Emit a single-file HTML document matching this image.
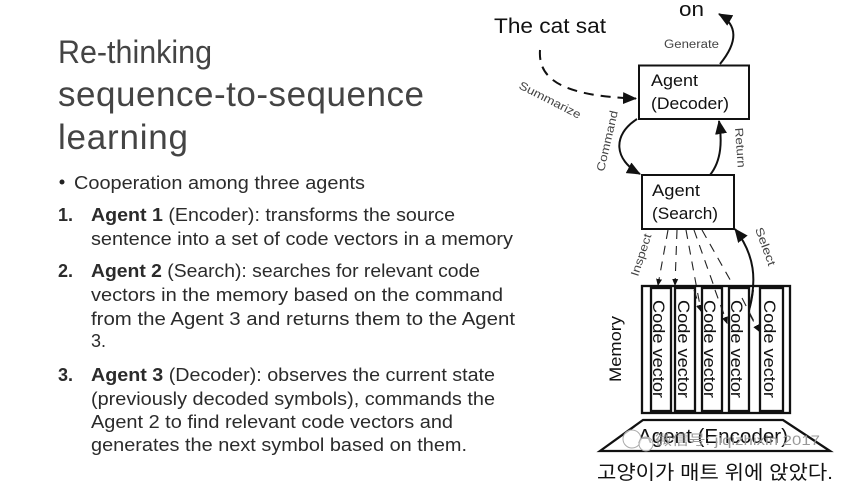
<!DOCTYPE html>
<html><head><meta charset="utf-8"><style>
html,body{margin:0;padding:0;background:#fff}
svg{display:block}
.t{font-family:"Liberation Sans",sans-serif;fill:#2b2b2b}
.b{font-size:18px}
.d{font-family:"Liberation Sans","Noto Sans CJK KR",sans-serif;fill:#111}
.s{font-size:11.5px;fill:#444}
.v{font-size:17px}
</style></head><body>
<svg width="855" height="482" viewBox="0 0 855 482" xmlns="http://www.w3.org/2000/svg">
<defs>
<marker id="a" markerWidth="7" markerHeight="7" refX="6" refY="3" orient="auto" markerUnits="userSpaceOnUse" viewBox="0 0 7 6"><path d="M0 0L7 3L0 6z" fill="#111"/></marker>
<marker id="A" markerWidth="14" markerHeight="12" refX="13" refY="6" orient="auto" markerUnits="userSpaceOnUse"><path d="M0 0L14 6L0 12z" fill="#111"/></marker>
</defs>
<rect width="855" height="482" fill="#fff"/>

<g class="t" style="font-weight:400;fill:#444">
<text x="58" y="63" font-size="32" textLength="154" lengthAdjust="spacingAndGlyphs">Re-thinking</text>
<text x="58" y="106" font-size="35" textLength="366" lengthAdjust="spacing">sequence-to-sequence</text>
<text x="58" y="149" font-size="35" textLength="130" lengthAdjust="spacing">learning</text>
</g>

<g class="t b">
<circle cx="62" cy="182" r="2.500" fill="#222"/>
<text x="74" y="189" textLength="291" lengthAdjust="spacingAndGlyphs">Cooperation among three agents</text>

<text x="58" y="221" font-weight="700">1.</text>
<text x="91" y="221" textLength="364" lengthAdjust="spacingAndGlyphs"><tspan font-weight="700">Agent 1</tspan> (Encoder): transforms the source</text>
<text x="91" y="245" textLength="422" lengthAdjust="spacingAndGlyphs">sentence into a set of code vectors in a memory</text>

<text x="58" y="277" font-weight="700">2.</text>
<text x="91" y="277" textLength="389" lengthAdjust="spacingAndGlyphs"><tspan font-weight="700">Agent 2</tspan> (Search): searches for relevant code</text>
<text x="91" y="301" textLength="412" lengthAdjust="spacingAndGlyphs">vectors in the memory based on the command</text>
<text x="91" y="325" textLength="424" lengthAdjust="spacingAndGlyphs">from the Agent 3 and returns them to the Agent</text>
<text x="91" y="347">3.</text>

<text x="58" y="381" font-weight="700">3.</text>
<text x="91" y="381" textLength="404" lengthAdjust="spacingAndGlyphs"><tspan font-weight="700">Agent 3</tspan> (Decoder): observes the current state</text>
<text x="91" y="405" textLength="404" lengthAdjust="spacingAndGlyphs">(previously decoded symbols), commands the</text>
<text x="91" y="428" textLength="362" lengthAdjust="spacingAndGlyphs">Agent 2 to find relevant code vectors and</text>
<text x="91" y="451" textLength="376" lengthAdjust="spacingAndGlyphs">generates the next symbol based on them.</text>
</g>

<g class="d">
<text x="494" y="33" font-size="21" textLength="112" lengthAdjust="spacingAndGlyphs">The cat sat</text>
<text x="679" y="16" font-size="20" textLength="25" lengthAdjust="spacingAndGlyphs">on</text>
<text class="s" x="664" y="48" textLength="55" lengthAdjust="spacingAndGlyphs" style="fill:#444">Generate</text>
<text x="651" y="86" font-size="17" textLength="47" lengthAdjust="spacingAndGlyphs">Agent</text>
<text x="651" y="109" font-size="17" textLength="78" lengthAdjust="spacingAndGlyphs">(Decoder)</text>
<text x="652" y="196" font-size="17" textLength="48" lengthAdjust="spacingAndGlyphs">Agent</text>
<text x="652" y="219" font-size="17" textLength="66" lengthAdjust="spacingAndGlyphs">(Search)</text>
<text class="s" transform="translate(518 88) rotate(27)" textLength="68" lengthAdjust="spacingAndGlyphs" style="fill:#444">Summarize</text>
<text class="s" transform="translate(604 172) rotate(-77)" textLength="62" lengthAdjust="spacingAndGlyphs" style="fill:#444">Command</text>
<text class="s" transform="translate(735 128) rotate(86)" textLength="40" lengthAdjust="spacingAndGlyphs" style="fill:#444">Return</text>
<text class="s" transform="translate(638 277) rotate(-72)" textLength="44" lengthAdjust="spacingAndGlyphs" style="fill:#444">Inspect</text>
<text class="s" transform="translate(755 229) rotate(70)" textLength="40" lengthAdjust="spacingAndGlyphs" style="fill:#444">Select</text>
<text transform="translate(621 382) rotate(-90)" font-size="17" textLength="66" lengthAdjust="spacingAndGlyphs">Memory</text>
</g>

<g fill="none" stroke="#111" stroke-width="2">
<rect x="639" y="65.500" width="110" height="53.500"/>
<rect x="642" y="175" width="92" height="54"/>
<path d="M540 50C538 78 560 96 636 98.500" stroke-dasharray="10 7" marker-end="url(#A)"/>
<path d="M720 64C738 42 738 25 719 14" marker-end="url(#A)"/>
<path d="M637 119C612 135 614 160 640 174" marker-end="url(#A)"/>
<path d="M710 175C722 160 722 140 719 121" marker-end="url(#A)"/>
<path d="M749 310C757 280 755 255 735 229" marker-end="url(#A)"/>
</g>

<g fill="none" stroke="#222" stroke-width="1.100" stroke-dasharray="9 7">
<path d="M668 230L658 285" marker-end="url(#a)"/>
<path d="M677 230L675 285" marker-end="url(#a)"/>
<path d="M686 230L701 311" marker-end="url(#a)"/>
<path d="M694 230L727 323" marker-end="url(#a)"/>
<path d="M702 230L759 331" marker-end="url(#a)"/>
</g>

<g fill="none" stroke="#111" stroke-width="2.300">
<rect x="642" y="286" width="148" height="127"/>
<rect x="651" y="288" width="20" height="123" fill="#fff"/>
<rect x="675" y="288" width="20" height="123" fill="#fff"/>
<rect x="702" y="288" width="20" height="123" fill="#fff"/>
<rect x="729" y="288" width="20" height="123" fill="#fff"/>
<rect x="760" y="288" width="23" height="123" fill="#fff"/>
<path d="M600 451L643 420H783L830 451z" fill="#fff"/>
</g>

<g fill="none" stroke="#222" stroke-width="1.100" stroke-dasharray="9 7">
<path d="M694 290L701 311" marker-end="url(#a)"/><path d="M715 290L727 323" marker-end="url(#a)"/><path d="M742 298L759 331" marker-end="url(#a)"/>
</g>
<path d="M749 310C751 304 752 298 753 290" fill="none" stroke="#111" stroke-width="2"/>

<g class="d v">
<text transform="translate(653 300) rotate(90)" textLength="98" lengthAdjust="spacingAndGlyphs">Code vector</text>
<text transform="translate(678 300) rotate(90)" textLength="98" lengthAdjust="spacingAndGlyphs">Code vector</text>
<text transform="translate(704 300) rotate(90)" textLength="98" lengthAdjust="spacingAndGlyphs">Code vector</text>
<text transform="translate(731 300) rotate(90)" textLength="98" lengthAdjust="spacingAndGlyphs">Code vector</text>
<text transform="translate(764 300) rotate(90)" textLength="98" lengthAdjust="spacingAndGlyphs">Code vector</text>
</g>

<g class="d">
<text x="638" y="443" font-size="20" textLength="150" lengthAdjust="spacingAndGlyphs">Agent (Encoder)</text>
<text x="655" y="445" font-size="14" style="fill:#999" textLength="165" lengthAdjust="spacingAndGlyphs">微信号: jiqizhixin 2017</text>
<text x="597" y="479" font-size="19.500" textLength="236" lengthAdjust="spacingAndGlyphs">고양이가 매트 위에 앉았다.</text>
</g>
<circle cx="632" cy="439" r="9" fill="#fff" fill-opacity=".7" stroke="#aaa"/>
<circle cx="646" cy="444" r="7" fill="#fff" fill-opacity=".7" stroke="#aaa"/>
</svg>
</body></html>
